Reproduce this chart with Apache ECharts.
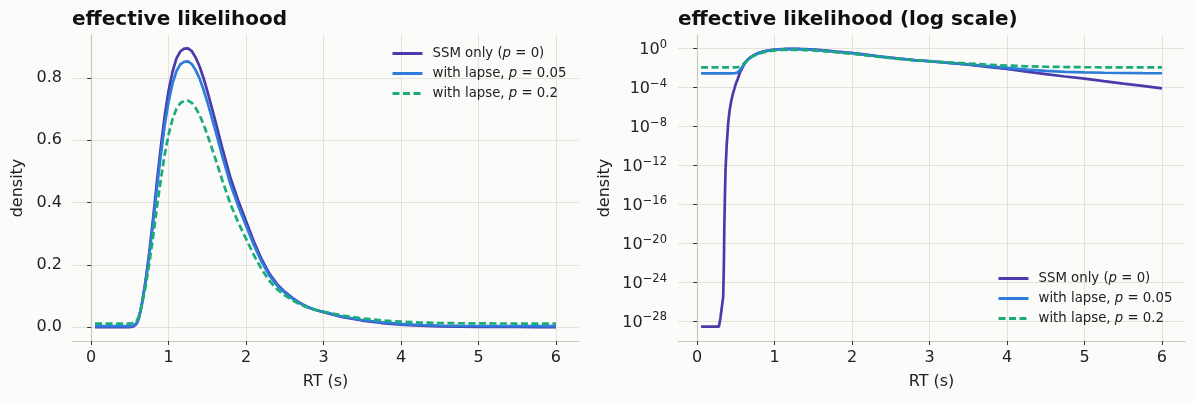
<!DOCTYPE html>
<html>
<head>
<meta charset="utf-8">
<script src="https://cdn.jsdelivr.net/npm/echarts@6/dist/echarts.min.js"></script>
<style>
  html, body { margin: 0; padding: 0; background: #fbfbf9; }
  #chart { width: 1195px; height: 403px; }
</style>
</head>
<body>
<div id="chart"></div>
<script>
// RT grid (s)
const rt = [0.05, 0.10, 0.15, 0.20, 0.25, 0.28, 0.30, 0.325, 0.336, 0.345, 0.35, 0.358, 0.366, 0.38, 0.40,
  0.42, 0.44, 0.46, 0.48, 0.50, 0.52, 0.55, 0.58, 0.60, 0.62, 0.65, 0.70, 0.75, 0.80, 0.85, 0.90, 0.95,
  1.00, 1.05, 1.10, 1.15, 1.20, 1.25, 1.30, 1.35, 1.40, 1.45, 1.50, 1.60, 1.70, 1.80, 1.90, 2.00, 2.10,
  2.20, 2.30, 2.40, 2.50, 2.60, 2.70, 2.80, 2.90, 3.00, 3.25, 3.50, 3.75, 4.00, 4.25, 4.50, 4.75, 5.00,
  5.25, 5.50, 5.75, 6.00];

const ssmOnly = [2.6e-29, 2.6e-29, 2.6e-29, 2.6e-29, 2.6e-29, 2.6e-29, 1.9e-28, 1.9e-28, 3e-26, 8e-23, 2.5e-19,
  6e-16, 3e-13, 8e-11, 2e-8, 5e-7, 4e-6, 2e-5, 7e-5, 2.5e-4, 6e-4, 0.003, 0.009, 0.018, 0.033, 0.068, 0.145,
  0.24, 0.35, 0.47, 0.58, 0.68, 0.76, 0.82, 0.862, 0.885, 0.894, 0.895, 0.886, 0.865, 0.837, 0.80, 0.758,
  0.665, 0.568, 0.478, 0.405, 0.34, 0.275, 0.218, 0.172, 0.138, 0.113, 0.093, 0.077, 0.064, 0.055, 0.048,
  0.032, 0.021, 0.013, 0.0078, 0.0042, 0.0023, 0.0013, 7.8e-4, 4.3e-4, 2.4e-4, 1.4e-4, 7.9e-5];

const lapse05 = [0.00275, 0.00275, 0.00275, 0.00275, 0.00275, 0.00275, 0.00275, 0.00275, 0.00275, 0.00275,
  0.00275, 0.00275, 0.00275, 0.00275, 0.00275, 0.00275, 0.00275, 0.00277, 0.00282, 0.00299, 0.00332, 0.0056,
  0.0113, 0.01985, 0.0341, 0.06735, 0.1405, 0.23075, 0.33525, 0.44925, 0.55375, 0.64875, 0.72475, 0.78175,
  0.82165, 0.8435, 0.85205, 0.853, 0.84445, 0.8245, 0.7979, 0.76275, 0.72285, 0.6345, 0.54235, 0.45685,
  0.3875, 0.32575, 0.264, 0.20985, 0.16615, 0.13385, 0.1101, 0.0911, 0.0759, 0.06355, 0.055, 0.04835,
  0.03315, 0.0227, 0.0151, 0.01016, 0.00674, 0.00494, 0.00399, 0.00349, 0.00316, 0.00298, 0.00288, 0.00283];

const lapse20 = [0.0112, 0.0112, 0.0112, 0.0112, 0.0112, 0.0112, 0.0112, 0.0112, 0.0112, 0.0112, 0.0112,
  0.0112, 0.0112, 0.0112, 0.0112, 0.0112, 0.0112, 0.01122, 0.01126, 0.0114, 0.01168, 0.0136, 0.0184, 0.0256,
  0.0376, 0.0656, 0.1272, 0.2032, 0.2912, 0.3872, 0.4752, 0.5552, 0.6192, 0.6672, 0.7008, 0.7192, 0.7264,
  0.7272, 0.72, 0.7032, 0.6808, 0.6512, 0.6176, 0.5432, 0.4656, 0.3936, 0.3352, 0.2832, 0.2312, 0.1856,
  0.1488, 0.1216, 0.1016, 0.0856, 0.0728, 0.0624, 0.0552, 0.0496, 0.0368, 0.028, 0.0216, 0.01744, 0.01456,
  0.01304, 0.01224, 0.01182, 0.01154, 0.01139, 0.01131, 0.01126];

const xTicks = [0, 1, 2, 3, 4, 5, 6];
const linTicks = [0, 0.2, 0.4, 0.6, 0.8];
const logTicks = [1e-28, 1e-24, 1e-20, 1e-16, 1e-12, 1e-8, 1e-4, 1];

const names = ['SSM only (p=0)', 'with lapse, p=0.05', 'with lapse, p=0.2'];
const legendRich = {
  'SSM only (p=0)': 'SSM only ({i|p} = 0)',
  'with lapse, p=0.05': 'with lapse, {i|p} = 0.05',
  'with lapse, p=0.2': 'with lapse, {i|p} = 0.2'
};
const colors = ['#4b3aaa', '#2e7ddb', '#1aab78'];

const font = '"DejaVu Sans"';
const spine = '#c9c8c0';
const grid = '#e4e2db';

const chart = echarts.init(document.getElementById('chart'), null, { renderer: 'canvas' });

function xAxis(gridIndex) {
  return {
    type: 'value', gridIndex,
    min: -0.2475, max: 6.2975,
    name: 'RT (s)', nameLocation: 'middle', nameGap: 33,
    nameTextStyle: { fontFamily: font, fontSize: 16, color: '#222' },
    axisLine: { onZero: false, lineStyle: { color: spine, width: 1.2 } },
    axisTick: { customValues: xTicks, length: 4, lineStyle: { color: '#333' } },
    axisLabel: { customValues: xTicks, fontFamily: font, fontSize: 16, color: '#222', margin: 9 },
    splitLine: { show: true, lineStyle: { color: grid, width: 1 } }
  };
}

function makeSeries(i, data, xi) {
  return {
    name: names[i], type: 'line', xAxisIndex: xi, yAxisIndex: xi,
    data: rt.map((x, k) => [x, data[k]]),
    symbol: 'none', smooth: false,
    lineStyle: { color: colors[i], width: 2.7, type: i === 2 ? [7, 3.5] : 'solid' },
    itemStyle: { color: colors[i] },
    z: i === 0 ? 2 : (i === 1 ? 3 : 4)
  };
}

function legend(left, top) {
  return {
    data: names, orient: 'vertical', left, top,
    itemWidth: 30, itemHeight: 14, itemGap: 7,
    selectedMode: false,
    itemStyle: { opacity: 0 },
    lineStyle: { width: 3 },
    formatter: n => legendRich[n],
    textStyle: {
      fontFamily: font, fontSize: 13.3, color: '#222', padding: [0, 0, 0, 5],
      rich: { i: { fontFamily: font, fontStyle: 'italic', fontSize: 13.3, color: '#222' } }
    }
  };
}

const option = {
  backgroundColor: '#fbfbf9',
  animation: false,
  title: [
    { text: 'effective likelihood', left: 67, top: 5,
      textStyle: { fontFamily: font, fontSize: 20, fontWeight: 'bold', color: '#111' } },
    { text: 'effective likelihood (log scale)', left: 673, top: 5,
      textStyle: { fontFamily: font, fontSize: 20, fontWeight: 'bold', color: '#111' } }
  ],
  legend: [legend(386, 42), legend(992, 267)],
  grid: [
    { left: 72, right: 616, top: 35, bottom: 62 },
    { left: 678, right: 10, top: 35, bottom: 62 }
  ],
  xAxis: [xAxis(0), xAxis(1)],
  yAxis: [
    {
      type: 'value', gridIndex: 0,
      min: -0.0447, max: 0.938,
      name: 'density', nameLocation: 'middle', nameGap: 46,
      nameTextStyle: { fontFamily: font, fontSize: 16, color: '#222' },
      axisLine: { show: true, lineStyle: { color: spine, width: 1.2 } },
      axisTick: { show: true, customValues: linTicks, length: 4, lineStyle: { color: '#333' } },
      axisLabel: { customValues: linTicks, fontFamily: font, fontSize: 16, color: '#222', margin: 10,
        formatter: v => v.toFixed(1) },
      splitLine: { show: true, lineStyle: { color: grid, width: 1 } }
    },
    {
      type: 'log', gridIndex: 1, logBase: 10,
      min: Math.pow(10, -30.06), max: Math.pow(10, 1.38),
      name: 'density', nameLocation: 'middle', nameGap: 65,
      nameTextStyle: { fontFamily: font, fontSize: 16, color: '#222' },
      axisLine: { show: true, lineStyle: { color: spine, width: 1.2 } },
      axisTick: { show: true, customValues: logTicks, length: 4, lineStyle: { color: '#333' } },
      axisLabel: {
        customValues: logTicks, fontFamily: font, color: '#222', margin: 11,
        formatter: v => {
          const e = Math.round(Math.log10(v));
          return '{b|10}{s|' + (e < 0 ? '\u2212' + (-e) : e) + '}';
        },
        rich: {
          b: { fontFamily: font, fontSize: 16, lineHeight: 19, verticalAlign: 'bottom', color: '#222' },
          s: { fontFamily: font, fontSize: 11.5, lineHeight: 12, verticalAlign: 'top', color: '#222' }
        }
      },
      splitLine: { show: true, lineStyle: { color: grid, width: 1 } }
    }
  ],
  series: [
    makeSeries(0, ssmOnly, 0), makeSeries(1, lapse05, 0), makeSeries(2, lapse20, 0),
    makeSeries(0, ssmOnly, 1), makeSeries(1, lapse05, 1), makeSeries(2, lapse20, 1)
  ]
};

chart.setOption(option);
</script>
</body>
</html>
